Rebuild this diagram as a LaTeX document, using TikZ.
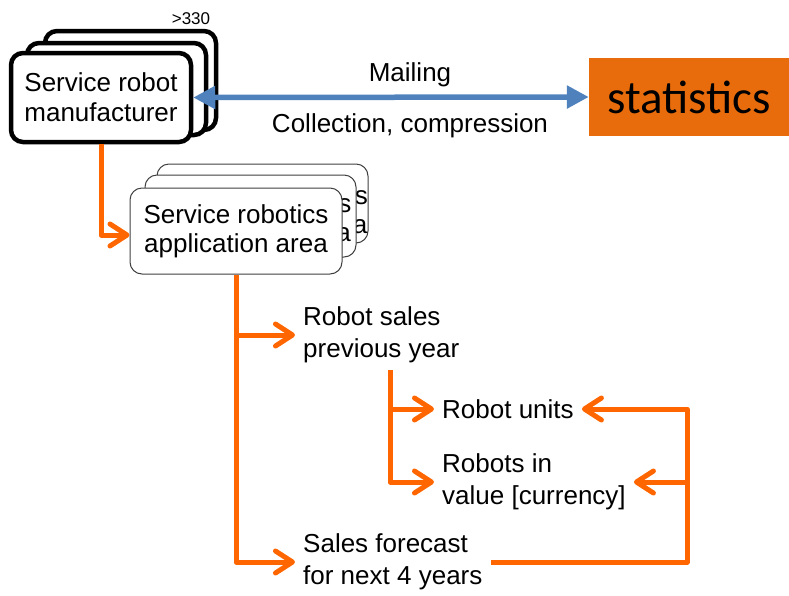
\documentclass[tikz,border=0pt]{standalone}
\usepackage{fontspec}
\setmainfont{Liberation Sans}
\newfontfamily\statfont{Carlito}
\usetikzlibrary{arrows.meta}
\definecolor{orangeline}{HTML}{FF6600}
\definecolor{statorange}{HTML}{E96C0C}
\definecolor{blueline}{HTML}{4F81BD}

\begin{document}
\begin{tikzpicture}[x=1pt,y=-1pt,
  txt/.style={font=\fontsize{26}{31.5}\selectfont, align=left, inner xsep=8pt, inner ysep=0pt},
  lbl/.style={font=\fontsize{26}{31.5}\selectfont, inner sep=0pt},
  mfrbox/.style={draw=black, line width=4.5pt, rounded corners=12pt, fill=white,
    align=center, font=\fontsize{26}{30}\selectfont},
  appfont/.style={align=center, font=\fontsize{26}{29}\selectfont},
  appbox/.style={draw=black!75, line width=1pt, rounded corners=12pt, fill=white, appfont},
  oline/.style={draw=orangeline, line width=5pt, line join=round},
  oarrow/.style={oline, -{Straight Barb[length=17pt,width=22pt,round]}},
  barrow/.style={draw=blueline, line width=5.5pt,
    {Triangle[length=22pt,width=22pt]}-{Triangle[length=22pt,width=22pt]}}
]
\useasboundingbox (0,0) rectangle (789,595);

% manufacturer stack
\node[mfrbox, minimum width=171pt, minimum height=99pt] (mfr3) at (130.5,80.5) {};
\node[mfrbox, minimum width=179pt, minimum height=92pt] (mfr2) at (116.5,89) {};
\node[mfrbox, minimum width=180pt, minimum height=89pt] (mfr) at (101,97.5)
  {Service robot\\manufacturer};
\node[font=\fontsize{17}{20}\selectfont, inner sep=0pt] (count) at (191,19) {>330};

% statistics target
\node[fill=statorange, minimum width=200pt, minimum height=78pt, inner sep=0pt,
  font=\statfont\fontsize{47}{50}\selectfont] (stat) at (689,97) {statistics};

% mailing / collection arrow
\draw[barrow] (mfr.east) -- (stat.west);
\node[lbl] (mail) at (410,75) {Mailing};
\node[lbl] (coll) at (410,126) {Collection, compression};

% application area stack (text of the rear cards sits off-centre)
\node[appbox, minimum width=211pt, minimum height=79pt,
  label={[appfont, xshift=13pt, yshift=-9pt]center:Service robotics\\application area}]
  (app3) at (262.5,203.5) {};
\node[appbox, minimum width=211pt, minimum height=82pt,
  label={[appfont, xshift=8.5pt, yshift=-4pt]center:Service robotics\\application area}]
  (app2) at (250.5,216) {};
\node[appbox, minimum width=212pt, minimum height=86pt] (app) at (236,231)
  {Service robotics\\application area};

% data items
\node[txt, anchor=west] (rs) at (295,335) {Robot sales\\previous year};
\node[txt, anchor=west] (ru) at (434,409) {Robot units};
\node[txt, anchor=west] (rv) at (434,482) {Robots in\\value [currency]};
\node[txt, anchor=west] (fc) at (295,562) {Sales forecast\\for next 4 years};

% connectors
\draw[oarrow] (mfr.south) |- ([yshift=-4pt]app.west);
\draw[oarrow] (app.south) |- (fc.west);
\draw[oarrow] (app.south |- rs.west) -- (rs.west);
\coordinate (split) at (390,370);
\draw[oarrow] (split) |- (rv.west);
\draw[oarrow] (split |- ru.west) -- (ru.west);
\coordinate (loop) at (687,480);
\draw[oarrow] (fc.east) -| (loop |- ru.east) -- (ru.east);
\draw[oarrow] (loop |- rv.east) -- (rv.east);
\end{tikzpicture}
\end{document}
